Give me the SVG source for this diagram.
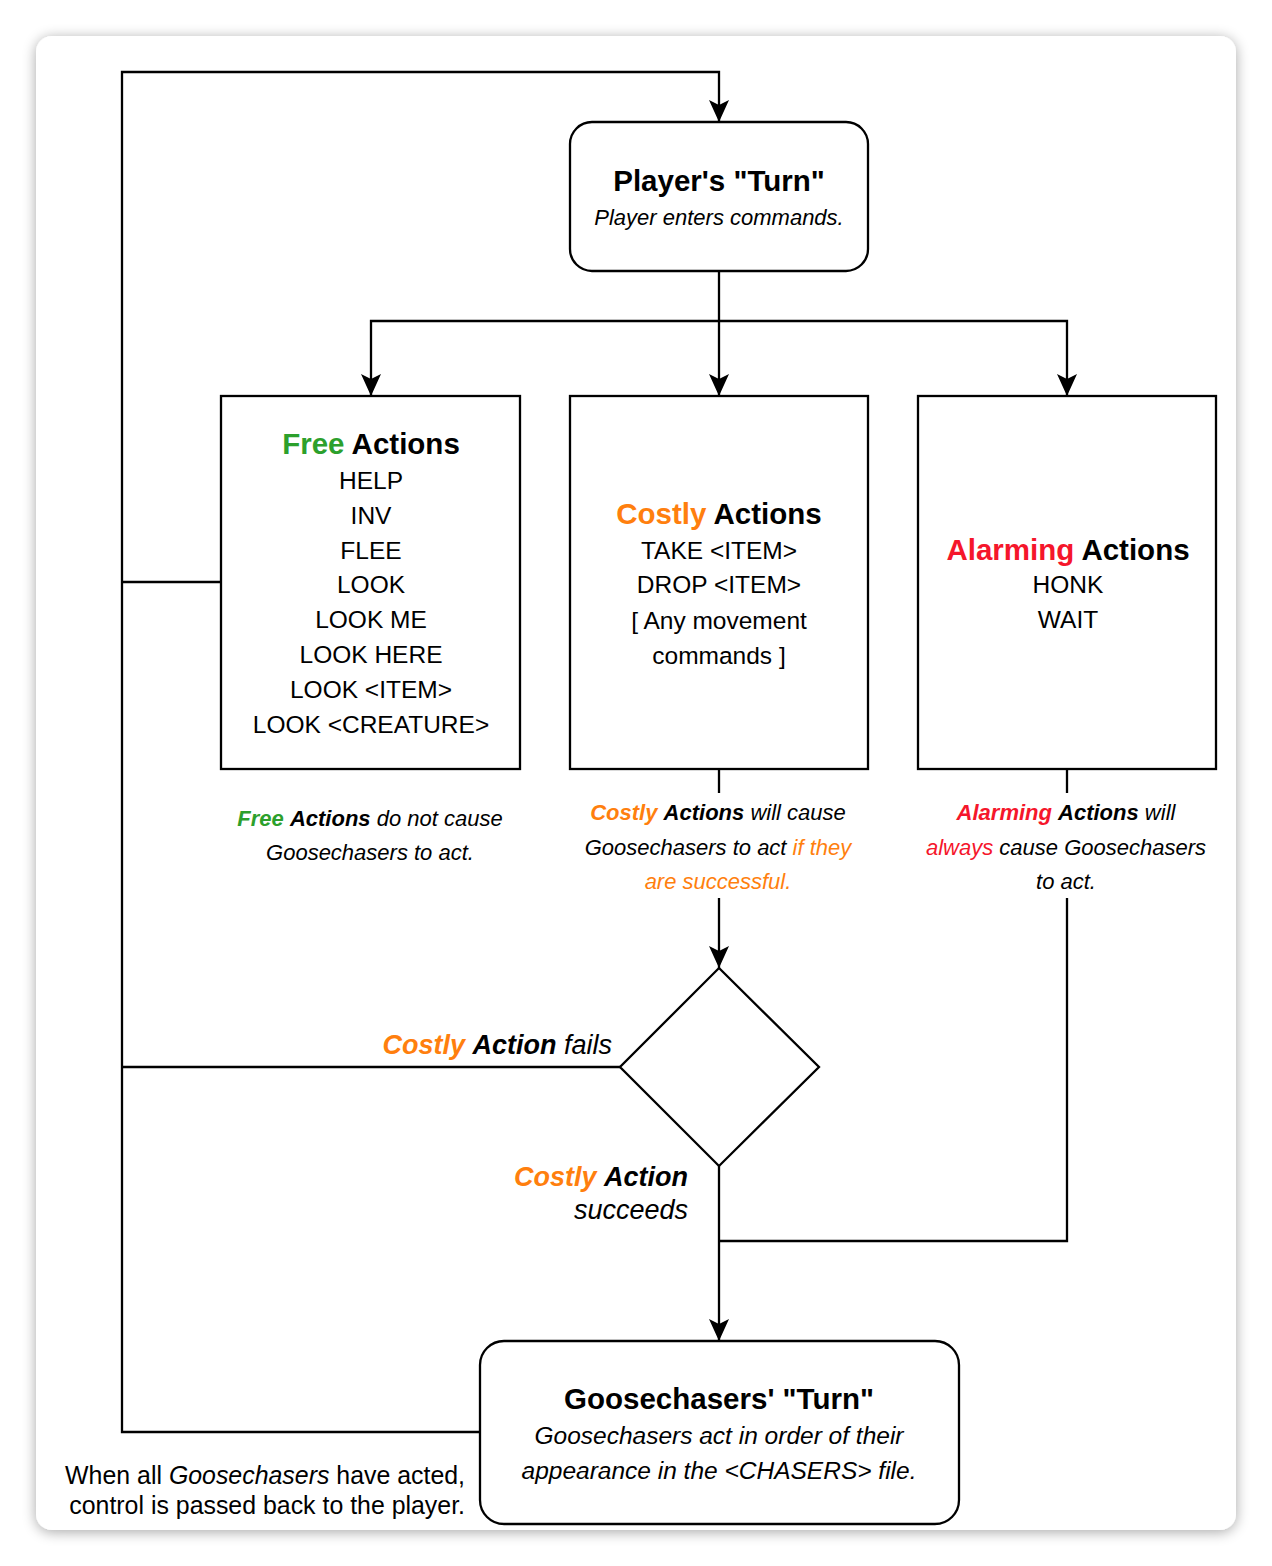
<svg xmlns="http://www.w3.org/2000/svg" width="1272" height="1566" viewBox="0 0 1272 1566">
<defs>
<filter id="sh" x="-10%" y="-10%" width="120%" height="120%">
<feGaussianBlur in="SourceAlpha" stdDeviation="7"/>
<feOffset dx="0" dy="2"/>
<feComponentTransfer><feFuncA type="linear" slope="0.35"/></feComponentTransfer>
<feMerge><feMergeNode/><feMergeNode in="SourceGraphic"/></feMerge>
</filter>
<marker id="arr" markerUnits="userSpaceOnUse" markerWidth="24" markerHeight="24" viewBox="0 -11 24 22" refX="22" refY="0" orient="auto">
<path d="M0,-10 L22,0 L0,10 L5,0 Z" fill="#000"/>
</marker>
</defs>
<style>
.ln{fill:none;stroke:#000;stroke-width:2.3}
.bx{fill:#fff;stroke:#000;stroke-width:2.3}
text{font-family:"Liberation Sans",Arial,Helvetica,sans-serif;fill:#000}
.t{font-size:29.5px;font-weight:bold;text-anchor:middle}
.s{font-size:22px;font-style:italic;text-anchor:middle}
.li{font-size:24.5px;text-anchor:middle}
.lb{font-size:22px;font-style:italic;text-anchor:middle}
.dl{font-size:27px;font-style:italic}
.gs{font-size:24.5px;font-style:italic;text-anchor:middle}
.b{font-weight:bold}
.g{fill:#2ca02c}
.o{fill:#ff7f0e}
.r{fill:#f5162b}
</style>
<rect x="36" y="36" width="1200" height="1494" rx="16" fill="#fff" filter="url(#sh)"/>
<g id="connectors">
<path class="ln" d="M719,271 V396" marker-end="url(#arr)"/>
<path class="ln" d="M719,321 H371 V396" marker-end="url(#arr)"/>
<path class="ln" d="M719,321 H1067 V396" marker-end="url(#arr)"/>
<path class="ln" d="M719,769 V793"/>
<path class="ln" d="M719,898 V968" marker-end="url(#arr)"/>
<path class="ln" d="M1067,769 V793"/>
<path class="ln" d="M1067,898 V1241 H719"/>
<path class="ln" d="M719,1166 V1341" marker-end="url(#arr)"/>
<path class="ln" d="M620,1067 H122"/>
<path class="ln" d="M221,582 H122"/>
<path class="ln" d="M480,1432 H122 V72 H719 V122" marker-end="url(#arr)"/>
</g>
<g id="player-turn">
<rect class="bx" x="570" y="122" width="298" height="149" rx="22"/>
<text class="t" x="719" y="191">Player's "Turn"</text>
<text class="s" x="719" y="225">Player enters commands.</text>
</g>
<g id="free-actions">
<rect class="bx" x="221" y="396" width="299" height="373"/>
<text class="t" x="371" y="454"><tspan class="g">Free</tspan> Actions</text>
<text class="li" x="371" y="489">HELP</text>
<text class="li" x="371" y="524">INV</text>
<text class="li" x="371" y="559">FLEE</text>
<text class="li" x="371" y="593">LOOK</text>
<text class="li" x="371" y="628">LOOK ME</text>
<text class="li" x="371" y="663">LOOK HERE</text>
<text class="li" x="371" y="698">LOOK &lt;ITEM&gt;</text>
<text class="li" x="371" y="733">LOOK &lt;CREATURE&gt;</text>
</g>
<g id="costly-actions">
<rect class="bx" x="570" y="396" width="298" height="373"/>
<text class="t" x="719" y="524"><tspan class="o">Costly</tspan> Actions</text>
<text class="li" x="719" y="559">TAKE &lt;ITEM&gt;</text>
<text class="li" x="719" y="593">DROP &lt;ITEM&gt;</text>
<text class="li" x="719" y="629">[ Any movement</text>
<text class="li" x="719" y="664">commands ]</text>
</g>
<g id="alarming-actions">
<rect class="bx" x="918" y="396" width="298" height="373"/>
<text class="t" x="1068" y="560"><tspan class="r">Alarming</tspan> Actions</text>
<text class="li" x="1068" y="593">HONK</text>
<text class="li" x="1068" y="628">WAIT</text>
</g>
<g id="free-label">
<text class="lb" x="370" y="826"><tspan class="b g">Free</tspan> <tspan class="b">Actions</tspan> do not cause</text>
<text class="lb" x="370" y="860">Goosechasers to act.</text>
</g>
<g id="costly-label">
<text class="lb" x="718" y="820"><tspan class="b o">Costly</tspan> <tspan class="b">Actions</tspan> will cause</text>
<text class="lb" x="718" y="855">Goosechasers to act <tspan class="o">if they</tspan></text>
<text class="lb o" x="718" y="889">are successful.</text>
</g>
<g id="alarming-label">
<text class="lb" x="1066" y="820"><tspan class="b r">Alarming</tspan> <tspan class="b">Actions</tspan> will</text>
<text class="lb" x="1066" y="855"><tspan class="r">always</tspan> cause Goosechasers</text>
<text class="lb" x="1066" y="889">to act.</text>
</g>
<g id="decision">
<path class="bx" d="M719,968 L819,1067 L719,1166 L620,1067 Z"/>
</g>
<g id="fail-label">
<text class="dl" x="612" y="1054" text-anchor="end"><tspan class="b o">Costly</tspan> <tspan class="b">Action</tspan> fails</text>
</g>
<g id="success-label">
<text class="dl" x="688" y="1186" text-anchor="end"><tspan class="b o">Costly</tspan> <tspan class="b">Action</tspan></text>
<text class="dl" x="688" y="1219" text-anchor="end">succeeds</text>
</g>
<g id="goosechasers-turn">
<rect class="bx" x="480" y="1341" width="479" height="183" rx="24"/>
<text class="t" x="719" y="1409">Goosechasers' "Turn"</text>
<text class="gs" x="719" y="1444">Goosechasers act in order of their</text>
<text class="gs" x="719" y="1479">appearance in the &lt;CHASERS&gt; file.</text>
</g>
<g id="return-label">
<text x="465" y="1484" text-anchor="end" font-size="24.9px">When all <tspan font-style="italic">Goosechasers</tspan> have acted,</text>
<text x="465" y="1514" text-anchor="end" font-size="24.9px">control is passed back to the player.</text>
</g>
</svg>
